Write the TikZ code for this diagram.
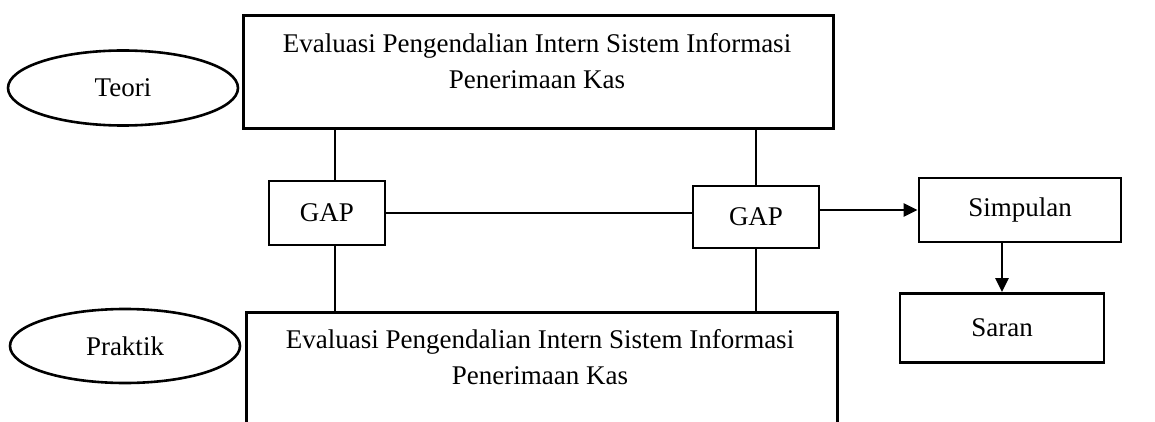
\documentclass[tikz,border=0pt]{standalone}
\usepackage{fontspec}
\setmainfont{Liberation Serif}
\usetikzlibrary{arrows.meta,shapes.geometric}

\tikzset{
	kotak/.style={draw, line width=2.8pt, inner sep=0pt},
	bulat/.style={ellipse, draw, line width=2.6pt, inner sep=0pt},
	garis/.style={line width=2.8pt},
	panah/.style={line width=2.8pt, -{Triangle[length=14pt,width=13pt]}},
	huruf/.style={font=\fontsize{27}{36}\selectfont},
}

\begin{document}
\begin{tikzpicture}[x=1pt, y=-1pt]
		%%%%% START %%%%%
		
		\useasboundingbox (0, 0) rectangle (1155, 422);
		
		\node[kotak, anchor=north west, minimum width=590pt, minimum height=113pt] (atas) at (242, 14) {};
		\node[huruf, align=center, anchor=north, inner sep=0pt] (teksatas) at (537, 33) {Evaluasi Pengendalian Intern Sistem Informasi\\Penerimaan Kas};
		
		\node[kotak, anchor=north west, minimum width=591pt, minimum height=125pt] (bawah) at (245, 311) {};
		\node[huruf, align=center, anchor=north, inner sep=0pt] (teksbawah) at (540, 329) {Evaluasi Pengendalian Intern Sistem Informasi\\Penerimaan Kas};
		
		\node[bulat, huruf, minimum width=230pt, minimum height=75pt] (teori) at (123, 88) {Teori};
		\node[bulat, huruf, minimum width=230pt, minimum height=74pt] (praktik) at (125, 346) {Praktik};
		
		\node[kotak, huruf, minimum width=116pt, minimum height=64pt] (gapkiri) at (327, 213) {GAP};
		\node[kotak, huruf, minimum width=126pt, minimum height=62pt] (gapkanan) at (756, 217) {GAP};
		
		\node[kotak, huruf, minimum width=202pt, minimum height=64pt] (simpulan) at (1020, 210) {Simpulan};
		\node[kotak, huruf, minimum width=204pt, minimum height=69pt] (saran) at (1002, 328) {Saran};
		
		% garis ke GAP kiri
		\coordinate (kiri) at ([xshift=8pt]gapkiri.north);
		\draw[garis] (kiri |- atas.south) -- (kiri);
		\draw[garis] (kiri |- gapkiri.south) -- (kiri |- bawah.north);
		
		% garis ke GAP kanan
		\draw[garis] (gapkanan.north |- atas.south) -- (gapkanan.north);
		\draw[garis] (gapkanan.south) -- (gapkanan.south |- bawah.north);
		
		\draw[garis] (gapkiri.east) -- (gapkiri.east -| gapkanan.west);
		
		\draw[panah] (gapkanan.east |- simpulan.west) -- (simpulan.west);
		\draw[panah] (saran.north |- simpulan.south) -- (saran.north);
		
		%%%%% END %%%%%
\end{tikzpicture}
\end{document}
